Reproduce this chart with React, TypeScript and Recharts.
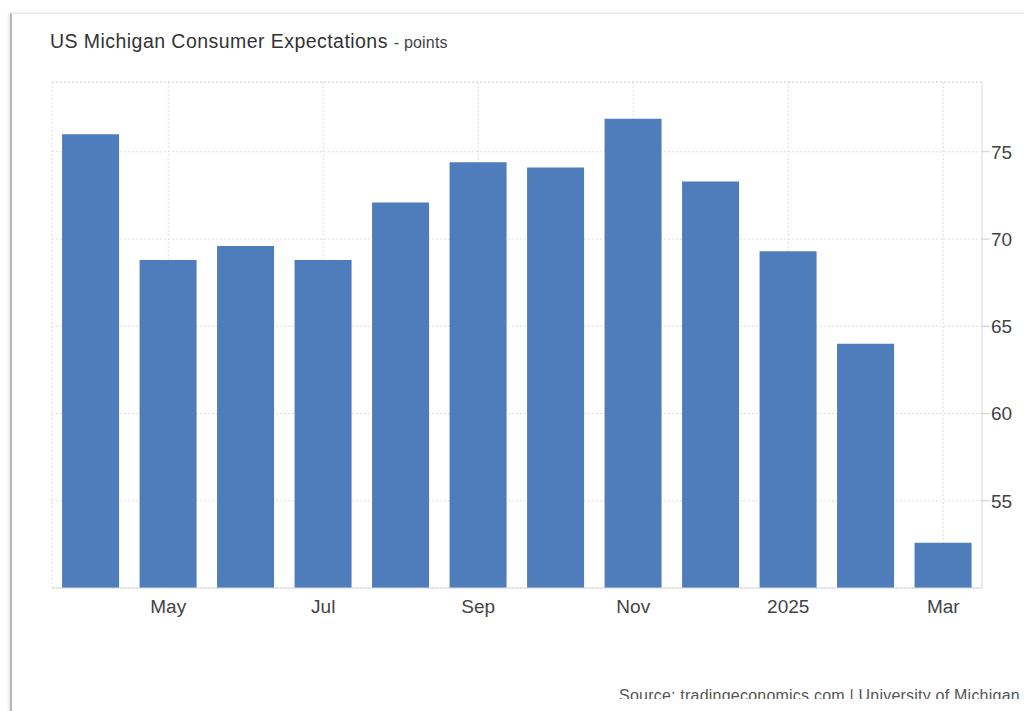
import { BarChart, Bar, XAxis, YAxis, CartesianGrid, ReferenceLine } from 'recharts'

const months = ['Apr 2024', 'May 2024', 'Jun 2024', 'Jul 2024', 'Aug 2024', 'Sep 2024', 'Oct 2024', 'Nov 2024', 'Dec 2024', 'Jan 2025', 'Feb 2025', 'Mar 2025']
const expectations = [76.0, 68.8, 69.6, 68.8, 72.1, 74.4, 74.1, 76.9, 73.3, 69.3, 64.0, 52.6]
const tickLabels = ['', 'May', '', 'Jul', '', 'Sep', '', 'Nov', '', '2025', '', 'Mar']
const yTicks = [55, 60, 65, 70, 75]
const yDomain = [50, 79]

const data = months.map((m, i) => ({ month: m, value: expectations[i] }))

const font = '"Liberation Sans", Arial, sans-serif'

export default function App() {
    const gridX = ({ offset }: { offset: { left: number; width: number } }) => {
        const band = offset.width / months.length
        const xs = [offset.left]
        months.forEach((_, i) => {
            if (tickLabels[i]) xs.push(offset.left + (i + 0.5) * band)
        })
        return xs
    }

    return (
        <div style={{ position: 'absolute', left: 0, top: 0, width: 1024, height: 711, background: '#fff', overflow: 'hidden', fontFamily: font }}>
            <div
                style={{
                    position: 'absolute',
                    left: 10,
                    top: 13,
                    width: 1030,
                    height: 720,
                    borderLeft: '2px solid #b8b8b8',
                    borderTop: '1px solid #e8e8e8',
                    boxShadow: '-1px 0 3px rgba(0,0,0,0.15)',
                }}
            />
            <div style={{ position: 'absolute', left: 50, top: 30, color: '#333', fontSize: 19.5, letterSpacing: 0.45, whiteSpace: 'nowrap' }}>
                US Michigan Consumer Expectations <span style={{ fontSize: 16, letterSpacing: 0.2, color: '#444' }}>- points</span>
            </div>
            <div style={{ position: 'absolute', left: 0, top: 0 }}>
                <BarChart width={1024} height={711} data={data} margin={{ top: 82, right: 2, bottom: 93, left: 52 }} barCategoryGap="13%">
                    <CartesianGrid stroke="#dddddd" strokeDasharray="2 2" verticalCoordinatesGenerator={gridX} />
                    <ReferenceLine y={79} stroke="#dddddd" strokeDasharray="2 2" />
                    <XAxis
                        dataKey="month"
                        interval={0}
                        height={30}
                        tickLine={false}
                        tickSize={0}
                        tickMargin={12}
                        axisLine={{ stroke: '#d9d9d9' }}
                        tickFormatter={(_v: string, i: number) => tickLabels[i]}
                        tick={{ fill: '#444', fontSize: 19, fontFamily: font }}
                    />
                    <YAxis
                        orientation="right"
                        width={40}
                        domain={yDomain}
                        ticks={yTicks}
                        allowDataOverflow
                        tickSize={8}
                        tickMargin={1}
                        axisLine={{ stroke: '#d9d9d9' }}
                        tickLine={{ stroke: '#cccccc' }}
                        tick={{ fill: '#444', fontSize: 19, fontFamily: font }}
                    />
                    <Bar dataKey="value" fill="#4f7cba" isAnimationActive={false} />
                </BarChart>
            </div>
            <div style={{ position: 'absolute', left: 619, top: 688, height: 11, overflow: 'hidden', fontSize: 16, letterSpacing: 0.22, lineHeight: '15px', color: '#555', whiteSpace: 'nowrap' }}>
                Source: tradingeconomics.com | University of Michigan
            </div>
        </div>
    )
}
